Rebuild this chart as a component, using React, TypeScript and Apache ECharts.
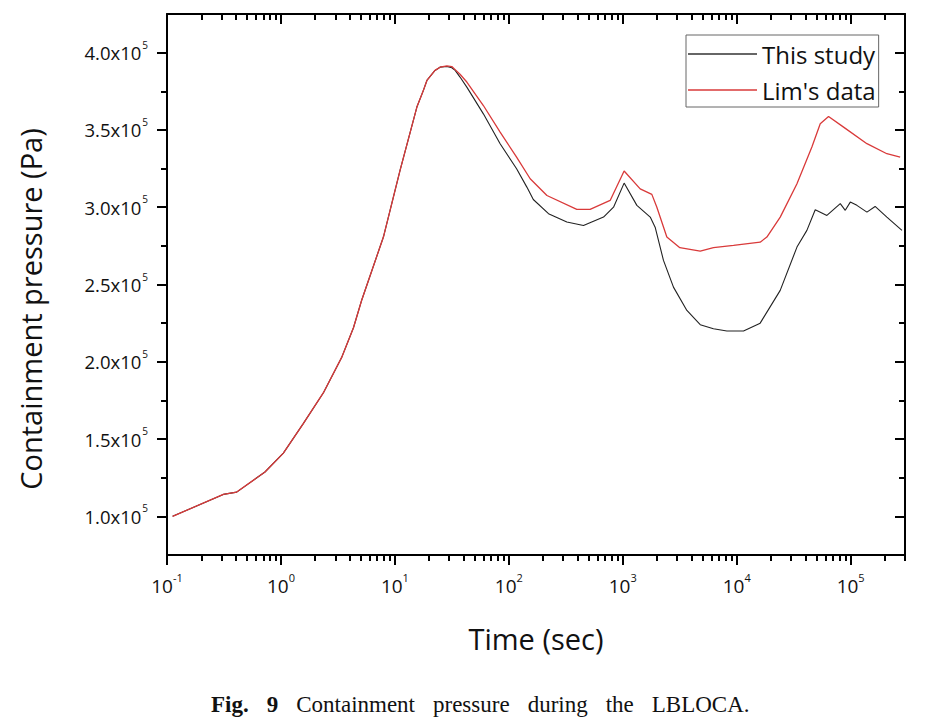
import React, { useEffect, useRef } from 'react';
import * as echarts from 'echarts';

// Time (s) and containment pressure (Pa)
const studyTime = [0.112, 0.312, 0.409, 0.724, 1.05, 1.57, 2.36, 3.42, 4.33, 5.12, 7.93, 11.1, 15.6, 17.8, 19.1, 22.5, 24.9, 28.6, 31.6, 33.8, 37.3, 42.8, 59.8, 83.9, 117, 144, 164, 223, 323, 452, 678, 830, 1028, 1330, 1742, 1924, 2277, 2786, 3655, 4786, 6252, 8203, 11480, 16070, 24100, 33800, 41300, 48900, 61900, 81100, 89700, 99300, 113500, 139000, 164000, 208000, 282000];
const studyPressure = [100000, 114200, 115700, 128700, 140900, 160000, 180000, 203000, 222000, 240000, 280700, 323800, 364800, 375600, 382000, 388500, 390600, 391000, 390200, 388500, 384200, 377700, 360400, 341100, 324900, 313000, 305000, 295800, 290400, 288200, 293600, 300000, 315600, 301200, 293600, 287100, 265600, 248300, 233200, 224000, 221400, 219900, 219900, 225000, 246200, 274200, 285000, 298400, 294700, 302300, 298000, 303300, 301200, 296800, 300500, 293600, 285000];

const limTime = [0.112, 0.312, 0.409, 0.724, 1.05, 1.57, 2.36, 3.42, 4.33, 5.12, 7.93, 11.1, 15.6, 17.8, 19.1, 22.5, 24.9, 28.6, 31.6, 33.8, 37.3, 42.8, 59.8, 83.9, 117, 154, 216, 395, 517, 775, 1028, 1422, 1800, 1992, 2437, 3170, 4786, 6252, 9376, 16070, 18400, 24100, 33800, 45700, 54100, 64000, 86700, 139000, 208000, 272000];
const limPressure = [100000, 114200, 115700, 128700, 140900, 160000, 180000, 203000, 222000, 240000, 280700, 323800, 364800, 375600, 382000, 388500, 390600, 391500, 391000, 389000, 386000, 381000, 365800, 348600, 332400, 318400, 307600, 298600, 298600, 304400, 323400, 311900, 308300, 300000, 280700, 273800, 271600, 273800, 275300, 277400, 280700, 293600, 315200, 338900, 354000, 358700, 351800, 341100, 334600, 332400];

const seriesNames = ['This study', "Lim's data"];
const xDecades = [-1, 0, 1, 2, 3, 4, 5];
const yMajorTicks = [100000, 150000, 200000, 250000, 300000, 350000, 400000];
const yMinorTicks = [125000, 175000, 225000, 275000, 325000, 375000];

const X_MIN = -1;
const X_MAX = Math.log10(300000);
const Y_MIN = 75000;
const Y_MAX = 425000;

const FONT = 'Open Sans';

export default function App() {
  const ref = useRef<HTMLDivElement>(null);

  useEffect(() => {
    const chart = echarts.init(ref.current!, null, { renderer: 'svg' });

    const xMinor: number[] = [];
    xDecades.forEach((d) => {
      for (let k = 2; k <= 9; k++) {
        const v = d + Math.log10(k);
        if (v <= X_MAX) xMinor.push(v);
      }
    });

    const toXY = (t: number[], p: number[]) => t.map((v, i) => [Math.log10(v), p[i]]);

    const tickStyle = { color: '#000', width: 2 };
    const baseX = {
      type: 'value',
      min: X_MIN,
      max: X_MAX,
      splitLine: { show: false },
      axisLine: { show: false, onZero: false, lineStyle: { color: '#000', width: 2 } },
      axisLabel: { show: false },
    };
    const baseY = {
      type: 'value',
      min: Y_MIN,
      max: Y_MAX,
      splitLine: { show: false },
      axisLine: { show: false, onZero: false, lineStyle: { color: '#000', width: 2 } },
      axisLabel: { show: false },
    };

    const option: any = {
      animation: false,
      backgroundColor: '#fff',
      grid: { left: 167, top: 14, width: 738, height: 541, containLabel: false },
      legend: {
        data: seriesNames,
        orient: 'vertical',
        left: 686,
        top: 35,
        icon: 'rect',
        itemWidth: 69,
        itemHeight: 1.5,
        itemGap: 12,
        padding: [7, 3, 5, 2],
        borderColor: '#666',
        borderWidth: 1,
        backgroundColor: '#fff',
        textStyle: { fontSize: 24, fontFamily: FONT, color: '#111' },
      },
      xAxis: [
        {
          ...baseX,
          position: 'bottom',
          axisLine: { show: true, onZero: false, lineStyle: { color: '#000', width: 2 } },
          axisTick: { show: true, customValues: xDecades, length: 10, lineStyle: tickStyle },
          axisLabel: {
            show: true,
            customValues: xDecades,
            margin: 17,
            formatter: (v: number) => `{b|10}{s|${Math.round(v)}}`,
            rich: {
              b: { fontSize: 19, fontFamily: FONT, color: '#111' },
              s: { fontSize: 11, fontFamily: FONT, color: '#111', padding: [0, 0, 16, 0] },
            },
          },
        },
        {
          ...baseX,
          position: 'bottom',
          axisTick: { show: true, customValues: xMinor, length: 6, lineStyle: tickStyle },
        },
        {
          ...baseX,
          position: 'top',
          axisLine: { show: true, onZero: false, lineStyle: { color: '#000', width: 2 } },
          axisTick: { show: true, inside: true, customValues: xDecades, length: 10, lineStyle: tickStyle },
        },
        {
          ...baseX,
          position: 'top',
          axisTick: { show: true, inside: true, customValues: xMinor, length: 6, lineStyle: tickStyle },
        },
      ],
      yAxis: [
        {
          ...baseY,
          position: 'left',
          axisLine: { show: true, onZero: false, lineStyle: { color: '#000', width: 2 } },
          axisTick: { show: true, customValues: yMajorTicks, length: 10, lineStyle: tickStyle },
          axisLabel: {
            show: true,
            customValues: yMajorTicks,
            margin: 19,
            formatter: (v: number) => `{b|${(v / 100000).toFixed(1)}x10}{s|5}`,
            rich: {
              b: { fontSize: 18.5, fontFamily: FONT, color: '#111' },
              s: { fontSize: 10, fontFamily: FONT, color: '#111', padding: [0, 0, 16, 1] },
            },
          },
        },
        {
          ...baseY,
          position: 'left',
          axisTick: { show: true, customValues: yMinorTicks, length: 6, lineStyle: tickStyle },
        },
        {
          ...baseY,
          position: 'right',
          axisLine: { show: true, onZero: false, lineStyle: { color: '#000', width: 2 } },
          axisTick: { show: true, inside: true, customValues: yMajorTicks, length: 10, lineStyle: tickStyle },
        },
        {
          ...baseY,
          position: 'right',
          axisTick: { show: true, inside: true, customValues: yMinorTicks, length: 6, lineStyle: tickStyle },
        },
      ],
      series: [
        {
          name: seriesNames[0],
          type: 'line',
          xAxisIndex: 0,
          yAxisIndex: 0,
          symbol: 'none',
          smooth: false,
          lineStyle: { color: '#222', width: 1.1 },
          itemStyle: { color: '#333' },
          data: toXY(studyTime, studyPressure),
        },
        {
          name: seriesNames[1],
          type: 'line',
          xAxisIndex: 0,
          yAxisIndex: 0,
          symbol: 'none',
          smooth: false,
          lineStyle: { color: '#d93a3a', width: 1.3 },
          itemStyle: { color: '#d93a3a' },
          data: toXY(limTime, limPressure),
        },
      ],
      graphic: [
        {
          type: 'text',
          x: 30,
          y: 309,
          rotation: Math.PI / 2,
          style: {
            text: 'Containment pressure (Pa)',
            fontSize: 29,
            fontFamily: FONT,
            fill: '#111',
            align: 'center',
            verticalAlign: 'middle',
          },
        },
        {
          type: 'text',
          x: 536,
          y: 638,
          style: {
            text: 'Time (sec)',
            fontSize: 29,
            fontFamily: FONT,
            fill: '#111',
            align: 'center',
            verticalAlign: 'middle',
          },
        },
        {
          type: 'text',
          x: 211,
          y: 704,
          style: {
            text: '{b|Fig.}{g| }{b|9}{g| }{n|Containment}{g| }{n|pressure}{g| }{n|during}{g| }{n|the}{g| }{n|LBLOCA.}',
            align: 'left',
            verticalAlign: 'middle',
            rich: {
              b: { fontSize: 23, fontFamily: 'Liberation Serif', fontWeight: 'bold', fill: '#111' },
              n: { fontSize: 23, fontFamily: 'Liberation Serif', fill: '#111' },
              g: { fontSize: 23, fontFamily: 'Liberation Serif', width: 18 },
            },
          },
        },
      ],
    };

    chart.setOption(option);
    return () => chart.dispose();
  }, []);

  return (
    <div
      ref={ref}
      style={{ position: 'fixed', left: 0, top: 0, width: 926, height: 721, background: '#fff' }}
    />
  );
}
